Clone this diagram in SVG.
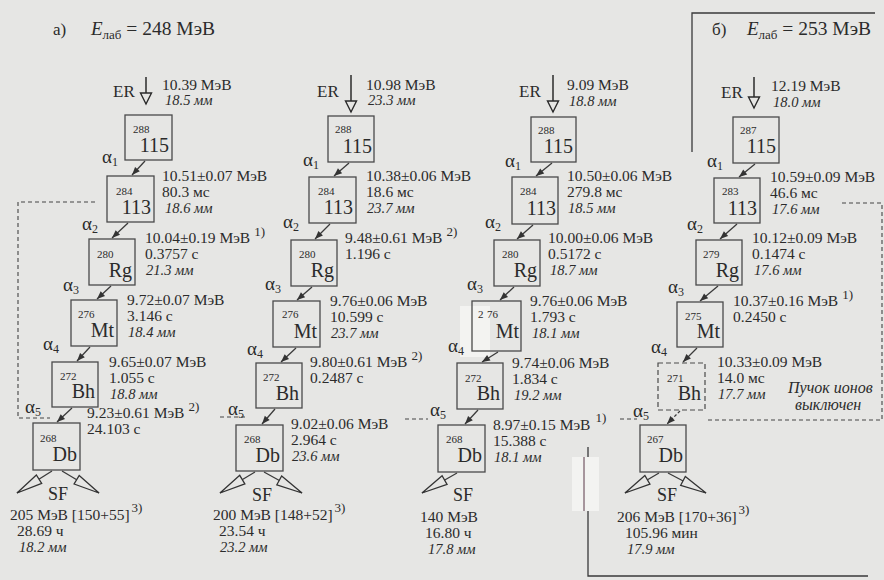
<svg xmlns="http://www.w3.org/2000/svg" width="884" height="580" viewBox="0 0 884 580">
<defs>
<style>
text{font-family:"Liberation Serif","Times New Roman",serif;fill:#2b2b2b}
.v{font-size:15.5px}
.i{font-size:14.5px;font-style:italic}
.m{font-size:11px}
.s{font-size:20px}
.al{font-size:19px}
.er{font-size:17px}
.sfl{font-size:18px}
.t{font-size:17px}
.box{fill:none;stroke:#4a4a4a;stroke-width:1.3}
.dbox{fill:none;stroke:#4a4a4a;stroke-width:1.2;stroke-dasharray:5 3}
.a{fill:none;stroke:#3a3a3a;stroke-width:1.3;marker-end:url(#ah)}
.ad{fill:none;stroke:#3a3a3a;stroke-width:1.3;stroke-dasharray:3 2;marker-end:url(#ah)}
.erl{stroke:#2b2b2b;stroke-width:1.5;marker-end:url(#erh)}
.sf{stroke:#3a3a3a;stroke-width:1.3;marker-end:url(#sfh)}
.dash{fill:none;stroke:#444;stroke-width:1.1;stroke-dasharray:4 3}
.frame{fill:none;stroke:#3a3a3a;stroke-width:1.3}
</style>
<marker id="ah" markerUnits="userSpaceOnUse" viewBox="-10 -5 12 10" refX="0" refY="0" markerWidth="12" markerHeight="10" orient="auto"><path d="M0,0 L-8,-3.2 L-8,3.2 Z" fill="#333"/></marker>
<marker id="erh" markerUnits="userSpaceOnUse" viewBox="-13 -7 15 14" refX="0" refY="0" markerWidth="15" markerHeight="14" orient="auto"><path d="M0,0 L-11,-5.5 L-11,5.5 Z" fill="#e6e6e4" stroke="#2b2b2b" stroke-width="1.4"/></marker>
<marker id="sfh" markerUnits="userSpaceOnUse" viewBox="-30 -8 32 16" refX="0" refY="0" markerWidth="32" markerHeight="16" orient="auto"><path d="M0,0 L-26,-5 L-26,5 Z" fill="#e6e6e4" stroke="#333" stroke-width="1.3"/></marker>
</defs>
<rect x="0" y="0" width="884" height="580" fill="#e6e6e4"/>

<!-- titles -->
<g id="title-a"><text class="t" x="53" y="35">а)</text><text x="91" y="35"><tspan font-style="italic" font-size="19">E</tspan><tspan font-size="13" dy="4">лаб</tspan><tspan font-size="19.5" dy="-4"> = 248 МэВ</tspan></text></g>
<g id="title-b"><text class="t" x="712" y="35">б)</text><text x="747" y="35"><tspan font-style="italic" font-size="19">E</tspan><tspan font-size="13" dy="4">лаб</tspan><tspan font-size="19.5" dy="-4"> = 253 МэВ</tspan></text></g>

<!-- frame of panel b -->
<g id="frame">
<path class="frame" d="M875,13 H692 V152"/>
<path class="frame" d="M588,447 V576 H868"/>
<rect x="572" y="457" width="27" height="54" fill="#f3f3f1"/>
<line x1="584" y1="457" x2="584" y2="511" stroke="#5a3848" stroke-width="1"/>
</g>

<!-- beam-off dashed boundary -->
<g id="beam-off">
<path class="dash" d="M95,202 H18 V418 H50"/>
<path class="dash" d="M220,417 H247"/>
<path class="dash" d="M405,419 H428"/>
<path class="dash" d="M620,419 H637"/>
<path class="dash" d="M708,420 H882 V203 H842"/>
</g>

<!-- chain 1 -->
<g id="c1-er"><text class="er" x="113" y="97">ER</text><text class="v" x="162" y="90">10.39 МэВ</text><text class="i" x="165" y="105">18.5 мм</text></g>
<g id="c1-115"><rect class="box" x="125" y="115" width="47" height="45"/><text class="m" x="133" y="133">288</text><text class="s" x="169" y="152" text-anchor="end">115</text></g>
<g id="c1-113"><rect class="box" x="107" y="176" width="47" height="46"/><text class="m" x="116" y="195">284</text><text class="s" x="151" y="214" text-anchor="end">113</text><text class="v" x="162" y="181">10.51±0.07 МэВ</text><text class="v" x="162" y="197">80.3 мс</text><text class="i" x="165" y="213">18.6 мм</text></g>
<g id="c1-rg"><rect class="box" x="89" y="239" width="46" height="46"/><text class="m" x="97" y="258">280</text><text class="s" x="132" y="277" text-anchor="end">Rg</text><text class="v" x="145" y="243">10.04±0.19 МэВ<tspan font-size="13" dx="4" dy="-7">1)</tspan></text><text class="v" x="145" y="259">0.3757 с</text><text class="i" x="146" y="275">21.3 мм</text></g>
<g id="c1-mt"><rect class="box" x="71" y="300" width="46" height="46"/><text class="m" x="78" y="318">276</text><text class="s" x="114" y="337" text-anchor="end">Mt</text><text class="v" x="127" y="305">9.72±0.07 МэВ</text><text class="v" x="127" y="321">3.146 с</text><text class="i" x="128" y="337">18.4 мм</text></g>
<g id="c1-bh"><rect class="box" x="52" y="362" width="46" height="45"/><text class="m" x="60" y="380">272</text><text class="s" x="95" y="398" text-anchor="end">Bh</text><text class="v" x="109" y="367">9.65±0.07 МэВ</text><text class="v" x="109" y="383">1.055 с</text><text class="i" x="110" y="399">18.8 мм</text></g>
<g id="c1-db"><rect class="box" x="33" y="423" width="47" height="47"/><text class="m" x="40" y="442">268</text><text class="s" x="77" y="461" text-anchor="end">Db</text><text class="v" x="87" y="418">9.23±0.61 МэВ<tspan font-size="13" dx="4" dy="-7">2)</tspan></text><text class="v" x="87" y="434">24.103 с</text></g>
<g id="c1-sf"><text class="sfl" x="48" y="500">SF</text><text class="v" x="10" y="520">205 МэВ [150+55]<tspan font-size="13" dx="2" dy="-8">3)</tspan></text><text class="v" x="17" y="536">28.69 ч</text><text class="i" x="19" y="552">18.2 мм</text></g>

<!-- chain 2 -->
<g id="c2-er"><text class="er" x="317" y="97">ER</text><text class="v" x="366" y="90">10.98 МэВ</text><text class="i" x="368" y="105">23.3 мм</text></g>
<g id="c2-115"><rect class="box" x="328" y="116" width="46" height="46"/><text class="m" x="335" y="133">288</text><text class="s" x="372" y="153" text-anchor="end">115</text></g>
<g id="c2-113"><rect class="box" x="309" y="177" width="47" height="46"/><text class="m" x="318" y="195">284</text><text class="s" x="353" y="214" text-anchor="end">113</text><text class="v" x="366" y="181">10.38±0.06 МэВ</text><text class="v" x="366" y="197">18.6 мс</text><text class="i" x="367" y="213">23.7 мм</text></g>
<g id="c2-rg"><rect class="box" x="291" y="240" width="46" height="46"/><text class="m" x="299" y="258">280</text><text class="s" x="334" y="277" text-anchor="end">Rg</text><text class="v" x="345" y="243">9.48±0.61 МэВ<tspan font-size="13" dx="4" dy="-7">2)</tspan></text><text class="v" x="345" y="259">1.196 с</text></g>
<g id="c2-mt"><rect class="box" x="273" y="301" width="47" height="46"/><text class="m" x="282" y="318">276</text><text class="s" x="317" y="338" text-anchor="end">Mt</text><text class="v" x="330" y="306">9.76±0.06 МэВ</text><text class="v" x="330" y="322">10.599 с</text><text class="i" x="331" y="338">23.7 мм</text></g>
<g id="c2-bh"><rect class="box" x="256" y="363" width="46" height="45"/><text class="m" x="263" y="381">272</text><text class="s" x="299" y="400" text-anchor="end">Bh</text><text class="v" x="310" y="367">9.80±0.61 МэВ<tspan font-size="13" dx="4" dy="-7">2)</tspan></text><text class="v" x="310" y="383">0.2487 с</text></g>
<g id="c2-db"><rect class="box" x="236" y="425" width="47" height="46"/><text class="m" x="244" y="443">268</text><text class="s" x="280" y="462" text-anchor="end">Db</text><text class="v" x="291" y="429">9.02±0.06 МэВ</text><text class="v" x="291" y="445">2.964 с</text><text class="i" x="292" y="461">23.6 мм</text></g>
<g id="c2-sf"><text class="sfl" x="252" y="501">SF</text><text class="v" x="213" y="520">200 МэВ [148+52]<tspan font-size="13" dx="2" dy="-8">3)</tspan></text><text class="v" x="219" y="536">23.54 ч</text><text class="i" x="220" y="552">23.2 мм</text></g>

<!-- chain 3 -->
<g id="c3-er"><text class="er" x="519" y="97">ER</text><text class="v" x="567" y="90">9.09 МэВ</text><text class="i" x="569" y="106">18.8 мм</text></g>
<g id="c3-115"><rect class="box" x="531" y="117" width="45" height="45"/><text class="m" x="538" y="134">288</text><text class="s" x="573" y="153" text-anchor="end">115</text></g>
<g id="c3-113"><rect class="box" x="512" y="177" width="46" height="47"/><text class="m" x="520" y="195">284</text><text class="s" x="556" y="215" text-anchor="end">113</text><text class="v" x="567" y="181">10.50±0.06 МэВ</text><text class="v" x="567" y="197">279.8 мс</text><text class="i" x="568" y="213">18.5 мм</text></g>
<g id="c3-rg"><rect class="box" x="494" y="240" width="46" height="46"/><text class="m" x="502" y="258">280</text><text class="s" x="537" y="277" text-anchor="end">Rg</text><text class="v" x="548" y="243">10.00±0.06 МэВ</text><text class="v" x="548" y="259">0.5172 с</text><text class="i" x="550" y="275">18.7 мм</text></g>
<g id="c3-mt"><rect x="460" y="306" width="30" height="51" fill="#f3f3f1"/><rect class="box" x="472" y="301" width="49" height="50"/><text class="m" x="478" y="318">2<tspan x="487">76</tspan></text><text class="s" x="519" y="338" text-anchor="end">Mt</text><text class="v" x="530" y="306">9.76±0.06 МэВ</text><text class="v" x="530" y="322">1.793 с</text><text class="i" x="532" y="338">18.1 мм</text></g>
<g id="c3-bh"><rect class="box" x="457" y="363" width="46" height="46"/><text class="m" x="465" y="382">272</text><text class="s" x="500" y="400" text-anchor="end">Bh</text><text class="v" x="512" y="368">9.74±0.06 МэВ</text><text class="v" x="512" y="384">1.834 с</text><text class="i" x="514" y="400">19.2 мм</text></g>
<g id="c3-db"><rect class="box" x="438" y="425" width="47" height="47"/><text class="m" x="446" y="443">268</text><text class="s" x="482" y="462" text-anchor="end">Db</text><text class="v" x="493" y="430">8.97±0.15 МэВ<tspan font-size="13" dx="5" dy="-8">1)</tspan></text><text class="v" x="493" y="446">15.388 с</text><text class="i" x="494" y="462">18.1 мм</text></g>
<g id="c3-sf"><text class="sfl" x="453" y="501">SF</text><text class="v" x="420" y="522">140 МэВ</text><text class="v" x="425" y="538">16.80 ч</text><text class="i" x="428" y="554">17.8 мм</text></g>

<!-- chain 4 -->
<g id="c4-er"><text class="er" x="721" y="98">ER</text><text class="v" x="771" y="91">12.19 МэВ</text><text class="i" x="773" y="107">18.0 мм</text></g>
<g id="c4-115"><rect class="box" x="733" y="117" width="46" height="46"/><text class="m" x="740" y="134">287</text><text class="s" x="776" y="153" text-anchor="end">115</text></g>
<g id="c4-113"><rect class="box" x="714" y="178" width="46" height="45"/><text class="m" x="722" y="195">283</text><text class="s" x="757" y="215" text-anchor="end">113</text><text class="v" x="770" y="182">10.59±0.09 МэВ</text><text class="v" x="770" y="198">46.6 мс</text><text class="i" x="772" y="214">17.6 мм</text></g>
<g id="c4-rg"><rect class="box" x="696" y="240" width="46" height="45"/><text class="m" x="703" y="258">279</text><text class="s" x="739" y="277" text-anchor="end">Rg</text><text class="v" x="752" y="243">10.12±0.09 МэВ</text><text class="v" x="752" y="259">0.1474 с</text><text class="i" x="754" y="275">17.6 мм</text></g>
<g id="c4-mt"><rect class="box" x="677" y="302" width="46" height="45"/><text class="m" x="685" y="320">275</text><text class="s" x="720" y="338" text-anchor="end">Mt</text><text class="v" x="733" y="306">10.37±0.16 МэВ<tspan font-size="13" dx="4" dy="-7">1)</tspan></text><text class="v" x="733" y="322">0.2450 с</text></g>
<g id="c4-bh"><rect class="dbox" x="658" y="363" width="47" height="47"/><text class="m" x="667" y="382">271</text><text class="s" x="701" y="400" text-anchor="end">Bh</text><text class="v" x="717" y="367">10.33±0.09 МэВ</text><text class="v" x="717" y="383">14.0 мс</text><text class="i" x="718" y="399">17.7 мм</text></g>
<g id="c4-note"><text font-size="16" font-style="italic" x="788" y="393">Пучок ионов</text><text font-size="16" font-style="italic" x="795" y="410">выключен</text></g>
<g id="c4-db"><rect class="box" x="640" y="425" width="46" height="47"/><text class="m" x="647" y="443">267</text><text class="s" x="683" y="462" text-anchor="end">Db</text></g>
<g id="c4-sf"><text class="sfl" x="657" y="501">SF</text><text class="v" x="617" y="522">206 МэВ [170+36]<tspan font-size="13" dx="2" dy="-8">3)</tspan></text><text class="v" x="625" y="538">105.96 мин</text><text class="i" x="627" y="554">17.9 мм</text></g>

<!-- connectors -->
<g id="connectors">
<line class="erl" x1="146" y1="77" x2="146" y2="104"/>
<line class="erl" x1="351" y1="75" x2="351" y2="112"/>
<line class="erl" x1="553" y1="75" x2="553" y2="112"/>
<line class="erl" x1="754" y1="77" x2="754" y2="108"/>

<line class="a" x1="145" y1="161" x2="132" y2="175"/>
<line class="a" x1="128" y1="223" x2="112" y2="238"/>
<line class="a" x1="111" y1="286" x2="97" y2="299"/>
<line class="a" x1="90" y1="347" x2="77" y2="361"/>
<line class="a" x1="72" y1="408" x2="57" y2="422"/>

<line class="a" x1="349" y1="163" x2="334" y2="176"/>
<line class="a" x1="330" y1="224" x2="315" y2="239"/>
<line class="a" x1="312" y1="287" x2="297" y2="300"/>
<line class="a" x1="296" y1="348" x2="281" y2="362"/>
<line class="a" x1="275" y1="409" x2="262" y2="424"/>

<line class="a" x1="552" y1="163" x2="536" y2="176"/>
<line class="a" x1="533" y1="225" x2="517" y2="239"/>
<line class="a" x1="514" y1="287" x2="500" y2="300"/>
<line class="a" x1="498" y1="352" x2="482" y2="362"/>
<line class="a" x1="478" y1="410" x2="465" y2="424"/>

<line class="a" x1="755" y1="164" x2="739" y2="177"/>
<line class="a" x1="737" y1="224" x2="720" y2="239"/>
<line class="a" x1="718" y1="286" x2="700" y2="301"/>
<line class="a" x1="697" y1="348" x2="683" y2="362"/>
<line class="ad" x1="680" y1="411" x2="667" y2="424"/>

<line class="sf" x1="52" y1="471" x2="17" y2="493"/>
<line class="sf" x1="62" y1="471" x2="99" y2="493"/>
<line class="sf" x1="255" y1="472" x2="220" y2="493"/>
<line class="sf" x1="264" y1="472" x2="302" y2="493"/>
<line class="sf" x1="457" y1="473" x2="422" y2="493"/>
<line class="sf" x1="659" y1="473" x2="625" y2="493"/>
<line class="sf" x1="668" y1="473" x2="706" y2="493"/>

<text class="al" x="102" y="163">α<tspan font-size="12" dy="3">1</tspan></text>
<text class="al" x="82" y="230">α<tspan font-size="12" dy="3">2</tspan></text>
<text class="al" x="63" y="291">α<tspan font-size="12" dy="3">3</tspan></text>
<text class="al" x="43" y="350">α<tspan font-size="12" dy="3">4</tspan></text>
<text class="al" x="25" y="413">α<tspan font-size="12" dy="3">5</tspan></text>

<text class="al" x="303" y="166">α<tspan font-size="12" dy="3">1</tspan></text>
<text class="al" x="283" y="228">α<tspan font-size="12" dy="3">2</tspan></text>
<text class="al" x="265" y="290">α<tspan font-size="12" dy="3">3</tspan></text>
<text class="al" x="247" y="355">α<tspan font-size="12" dy="3">4</tspan></text>
<text class="al" x="228" y="415">α<tspan font-size="12" dy="3">5</tspan></text>

<text class="al" x="505" y="167">α<tspan font-size="12" dy="3">1</tspan></text>
<text class="al" x="485" y="228">α<tspan font-size="12" dy="3">2</tspan></text>
<text class="al" x="467" y="290">α<tspan font-size="12" dy="3">3</tspan></text>
<text class="al" x="448" y="352">α<tspan font-size="12" dy="3">4</tspan></text>
<text class="al" x="430" y="416">α<tspan font-size="12" dy="3">5</tspan></text>

<text class="al" x="707" y="167">α<tspan font-size="12" dy="3">1</tspan></text>
<text class="al" x="687" y="230">α<tspan font-size="12" dy="3">2</tspan></text>
<text class="al" x="668" y="293">α<tspan font-size="12" dy="3">3</tspan></text>
<text class="al" x="651" y="353">α<tspan font-size="12" dy="3">4</tspan></text>
<text class="al" x="633" y="417">α<tspan font-size="12" dy="3">5</tspan></text>
</g>
</svg>
